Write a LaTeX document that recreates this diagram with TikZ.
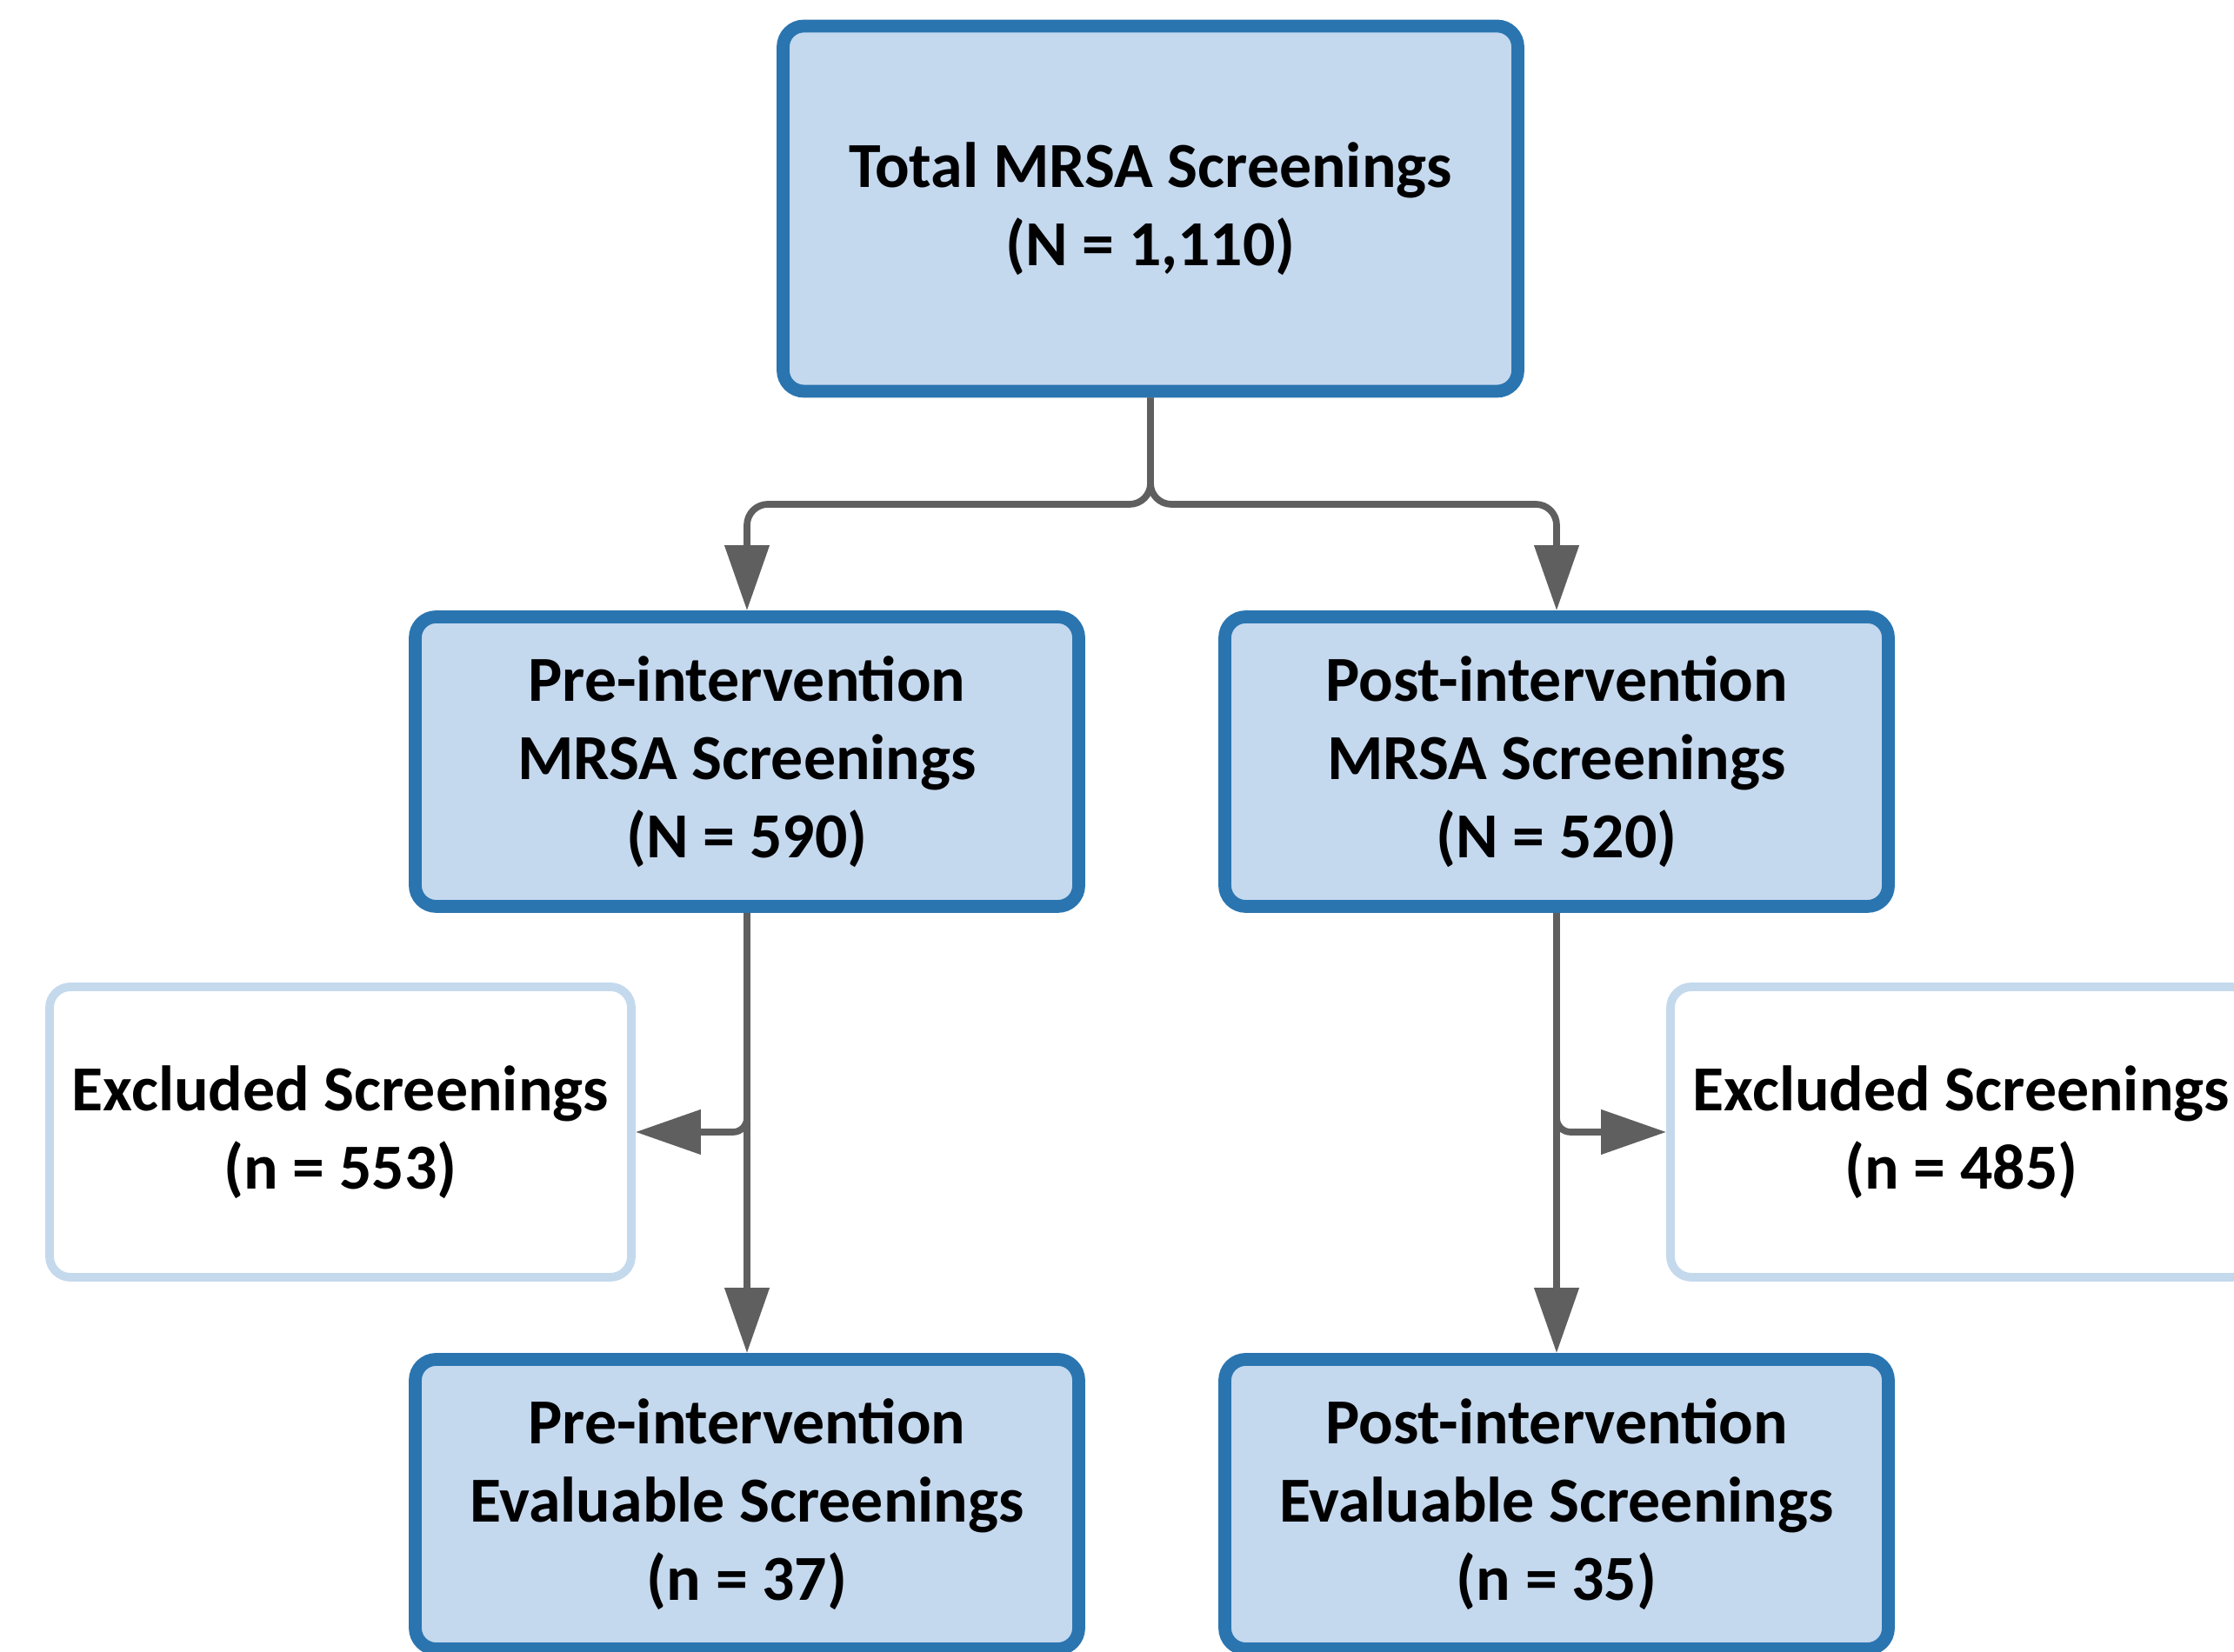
\documentclass[tikz,border=0pt]{standalone}
\usepackage{fontspec}
\setmainfont{Carlito}
\usetikzlibrary{arrows.meta}

\definecolor{boxfill}{RGB}{196,216,238}
\definecolor{boxline}{RGB}{42,117,176}
\definecolor{exline}{RGB}{197,217,237}
\definecolor{conngray}{RGB}{95,95,95}

\begin{document}
\begin{tikzpicture}[
        font=\bfseries\fontsize{21}{25.6}\selectfont,
        stage/.style={draw=boxline, line width=4.2pt, fill=boxfill, rounded corners=0.24cm,
            align=center, inner sep=0pt, minimum width=7.63cm, minimum height=3.33cm},
        excl/.style={draw=exline, line width=2.8pt, fill=white, rounded corners=0.24cm,
            align=center, inner sep=0pt, minimum width=6.69cm, minimum height=3.34cm},
        flow/.style={draw=conngray, line width=2.2pt, rounded corners=0.24cm,
            -{Triangle[length=0.75cm,width=0.5cm]}}
    ]
        \useasboundingbox (0,0) rectangle (25.69,19);

        % top box
        \node[stage, minimum width=8.45cm, minimum height=4.2cm] (total) at (13.23,16.6)
            {Total MRSA Screenings\\(N = 1,110)};

        % the two periods
        \node[stage] (pre) at (8.59,10.24) {Pre-intervention\\MRSA Screenings\\(N = 590)};
        \node[stage] (post) at (17.9,10.24) {Post-intervention\\MRSA Screenings\\(N = 520)};

        % excluded screenings
        \node[excl] (exPre) at (3.915,5.98) {Excluded Screenings\\(n = 553)};
        \node[excl] (exPost) at (22.555,5.98) {Excluded Screenings\\(n = 485)};

        % evaluable screenings
        \node[stage] (evalPre) at (8.59,1.7) {Pre-intervention\\Evaluable Screenings\\(n = 37)};
        \node[stage] (evalPost) at (17.9,1.7) {Post-intervention\\Evaluable Screenings\\(n = 35)};

        % connectors
        \coordinate (split) at (13.23,13.20);
        \draw[flow] (total.south) -- (split) -| (pre.north);
        \draw[flow] (total.south) -- (split) -| (post.north);

        \draw[flow] (pre.south) -- (evalPre.north);
        \draw[flow, rounded corners=0.16cm] (pre.south) |- (exPre.east);

        \draw[flow] (post.south) -- (evalPost.north);
        \draw[flow, rounded corners=0.16cm] (post.south) |- (exPost.west);
    \end{tikzpicture}
\end{document}
